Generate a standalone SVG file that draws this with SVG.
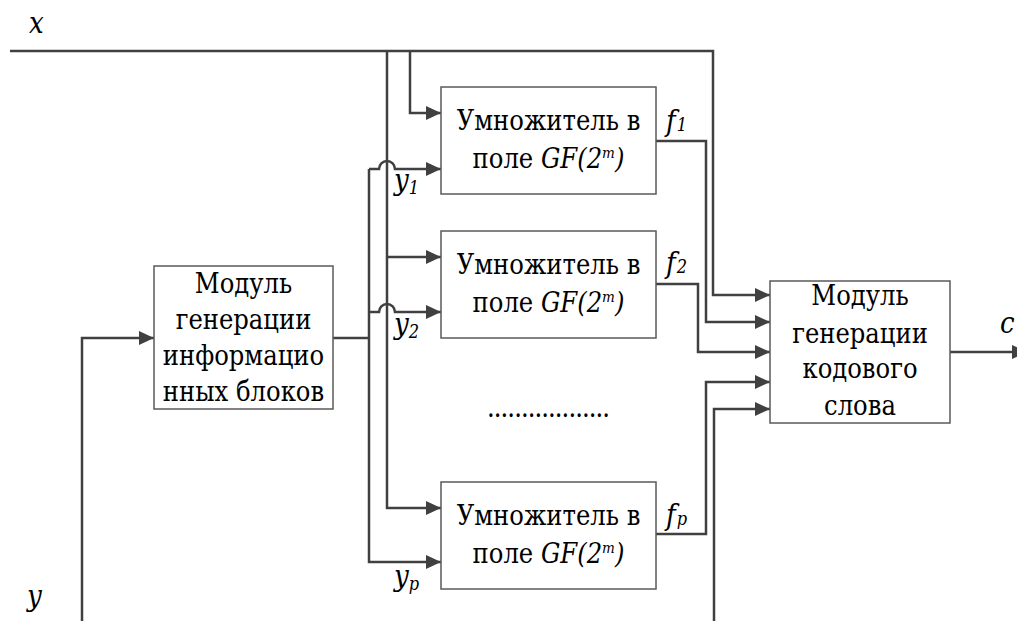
<svg xmlns="http://www.w3.org/2000/svg" width="1017" height="621" viewBox="0 0 1017 621">
<style>
.box{fill:#fff;stroke:#5a5a5a;stroke-width:1.5}
.w{fill:none;stroke:#404040;stroke-width:2.5}
.t{font-size:27px;fill:#000;text-anchor:middle}
.v{font-size:29px;font-style:italic;fill:#000}
.s{font-size:18px}
.i{font-style:italic}
.sup{font-size:15px;font-style:italic}
</style>
<defs>
<marker id="ah" viewBox="0 0 15 14" refX="15" refY="7" markerWidth="15" markerHeight="14" orient="auto" markerUnits="userSpaceOnUse">
<path d="M0,0 L15,7 L0,14 Z" fill="#404040"/>
</marker>
</defs>
<g id="connectors">
<path class="w" d="M10,51 H713 V295 H770" marker-end="url(#ah)"/>
<path class="w" d="M410,51 V113 H441" marker-end="url(#ah)"/>
<path class="w" d="M387,51 V508 H441" marker-end="url(#ah)"/>
<path class="w" d="M387,257 H441" marker-end="url(#ah)"/>
<path class="w" d="M82,621 V338 H154" marker-end="url(#ah)"/>
<path class="w" d="M333,338 H369"/>
<path class="w" d="M369,169 V562 H441" marker-end="url(#ah)"/>
<path class="w" d="M369,169 H379 A8,8 0 0 1 395,169 H441" marker-end="url(#ah)"/>
<path class="w" d="M369,312 H379 A8,8 0 0 1 395,312 H441" marker-end="url(#ah)"/>
<path class="w" d="M656,141 H706 V322 H770" marker-end="url(#ah)"/>
<path class="w" d="M656,284 H698 V352 H770" marker-end="url(#ah)"/>
<path class="w" d="M656,534 H706 V382 H770" marker-end="url(#ah)"/>
<path class="w" d="M714,621 V409 H770" marker-end="url(#ah)"/>
<path class="w" d="M950,352 H1027" marker-end="url(#ah)"/>
</g>
<g font-family="DejaVu Serif Condensed, DejaVu Serif, serif">
<g id="info-module">
<rect class="box" x="154" y="266" width="179" height="143"/>
<text class="t" x="243.5" y="293">Модуль</text>
<text class="t" x="243.5" y="329">генерации</text>
<text class="t" x="243.5" y="365">информацио</text>
<text class="t" x="243.5" y="401">нных блоков</text>
</g>
<g id="mult1">
<rect class="box" x="441" y="87" width="215" height="107"/>
<text class="t" x="548.5" y="130">Умножитель в</text>
<text class="t" x="548.5" y="168">поле <tspan class="i">GF(2</tspan><tspan class="sup" dy="-10">m</tspan><tspan class="i" dy="10">)</tspan></text>
</g>
<g id="mult2">
<rect class="box" x="441" y="231" width="215" height="107"/>
<text class="t" x="548.5" y="274">Умножитель в</text>
<text class="t" x="548.5" y="312">поле <tspan class="i">GF(2</tspan><tspan class="sup" dy="-10">m</tspan><tspan class="i" dy="10">)</tspan></text>
</g>
<g id="multp">
<rect class="box" x="441" y="482" width="215" height="107"/>
<text class="t" x="548.5" y="525">Умножитель в</text>
<text class="t" x="548.5" y="563">поле <tspan class="i">GF(2</tspan><tspan class="sup" dy="-10">m</tspan><tspan class="i" dy="10">)</tspan></text>
</g>
<g id="codeword-module">
<rect class="box" x="770" y="281" width="180" height="142"/>
<text class="t" x="860" y="305">Модуль</text>
<text class="t" x="860" y="343">генерации</text>
<text class="t" x="860" y="378">кодового</text>
<text class="t" x="860" y="415">слова</text>
</g>
<g id="dots">
<text class="t" x="548.5" y="417" textLength="123" lengthAdjust="spacing">..................</text>
</g>
<g id="labels">
<text class="v" x="29" y="33">x</text>
<text class="v" x="27" y="606">y</text>
<text class="v" x="394" y="190">y<tspan class="s" dy="4">1</tspan></text>
<text class="v" x="394" y="334">y<tspan class="s" dy="4">2</tspan></text>
<text class="v" x="394" y="586">y<tspan class="s" dy="4">p</tspan></text>
<text class="v" x="666" y="131">f<tspan class="s" dx="1">1</tspan></text>
<text class="v" x="666" y="273">f<tspan class="s" dx="1">2</tspan></text>
<text class="v" x="666" y="525">f<tspan class="s" dx="1">p</tspan></text>
<text class="v" x="1000" y="333">c</text>
</g>
</g>
</svg>
